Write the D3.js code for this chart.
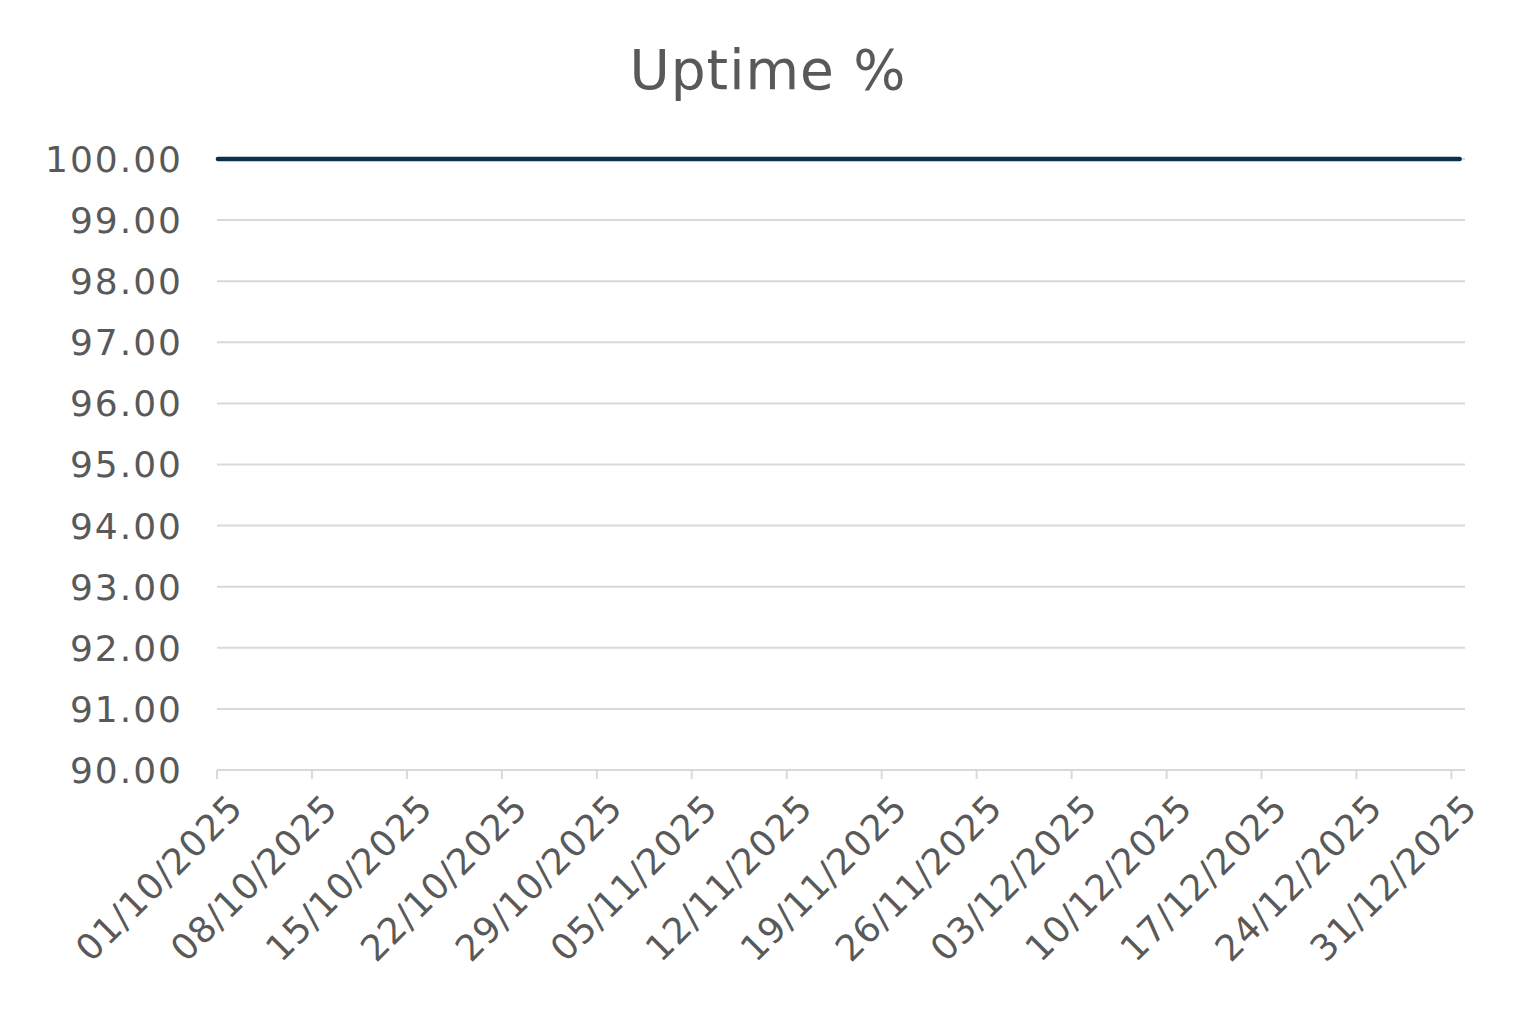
<!DOCTYPE html>
<html><head><meta charset="utf-8">
<script src="https://cdn.jsdelivr.net/npm/d3@7"></script>
<style>body{margin:0;background:#fff}text{font-family:"DejaVu Sans",sans-serif;fill:#595959}</style>
</head><body><svg id="c" width="1539" height="1031"></svg>
<script>
const title = "Uptime %";
const dates = ["2025-10-01","2026-01-01"];
const uptime = [100, 100];
const yTicks = [90,91,92,93,94,95,96,97,98,99,100];
const xTickLabels = ["01/10/2025","08/10/2025","15/10/2025","22/10/2025","29/10/2025","05/11/2025","12/11/2025","19/11/2025","26/11/2025","03/12/2025","10/12/2025","17/12/2025","24/12/2025","31/12/2025"];

const svg = d3.select("#c");
const parse = d3.timeParse("%Y-%m-%d"), parseL = d3.timeParse("%d/%m/%Y");
const x = d3.scaleTime().domain([parse("2025-10-01"), parse("2026-01-01")]).range([217,1465]);
const y = d3.scaleLinear().domain([90,100]).range([770,159]);

svg.append("text").attr("x",768).attr("y",89).attr("text-anchor","middle").attr("font-size",55).attr("letter-spacing",1).text(title);

svg.append("g").selectAll("line").data(yTicks.filter(d=>d>90)).join("line")
 .attr("x1",217).attr("x2",1465).attr("y1",d=>y(d)).attr("y2",d=>y(d)).attr("stroke","#d9d9d9").attr("stroke-width",2);
svg.append("g").selectAll("text").data(yTicks).join("text")
 .attr("x",183).attr("y",d=>y(d)).attr("dy","0.36em").attr("text-anchor","end").attr("font-size",36).attr("letter-spacing",2).text(d=>d.toFixed(2));

svg.append("line").attr("x1",217).attr("x2",1465).attr("y1",770).attr("y2",770).attr("stroke","#d9d9d9").attr("stroke-width",2);
const xt = svg.append("g").selectAll("g").data(xTickLabels).join("g").attr("transform",d=>`translate(${x(parseL(d))},770)`);
xt.append("line").attr("y2",9).attr("stroke","#d9d9d9").attr("stroke-width",2);
xt.append("text").attr("transform","translate(10,22) rotate(-45)").attr("text-anchor","end").attr("dy","0.7em").attr("font-size",36).attr("letter-spacing",1).text(d=>d);

const pts = dates.map((d,i)=>[parse(d),uptime[i]]);
svg.append("path").datum(pts).attr("d",d3.line().x(d=>x(d[0])).y(d=>y(d[1])))
 .attr("fill","none").attr("stroke","#0d3048").attr("stroke-width",4.5).attr("stroke-linecap","round")
 .attr("transform","translate(2,0) scale(0.995,1)");
</script></body></html>
